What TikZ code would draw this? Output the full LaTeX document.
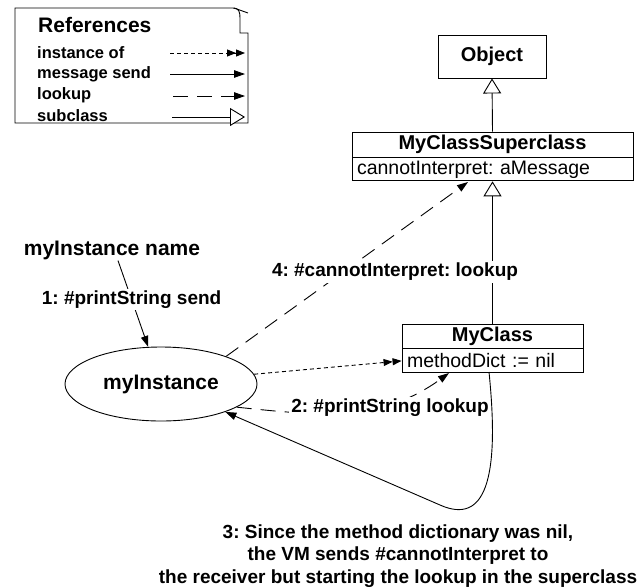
\documentclass[tikz,border=0pt]{standalone}
\usepackage{fontspec}
\setmainfont{Liberation Sans}
\usetikzlibrary{arrows.meta,shapes.geometric,calc}
\frenchspacing
\begin{document}
\begin{tikzpicture}[x=1pt,y=-1pt,
  lw/.style={line width=0.9pt},
  lbl/.style={font=\fontsize{19}{22.5}\selectfont\bfseries, inner sep=2pt},
  big/.style={font=\fontsize{21}{25}\selectfont\bfseries, inner sep=0pt},
  legtxt/.style={font=\fontsize{16.5}{19}\selectfont\bfseries, inner sep=0pt, anchor=west},
  chead/.style={draw, lw, font=\fontsize{20}{24}\selectfont\bfseries, inner sep=0pt},
  cbody/.style={draw, lw, font=\fontsize{19.5}{23}\selectfont, inner xsep=5pt, inner ysep=0pt, align=left, anchor=north},
  msg/.style={draw, lw, -{Triangle[length=11pt,width=7.5pt]}},
  inst/.style={draw, lw, dash pattern=on 4pt off 3pt, -{Triangle[length=9pt,width=7pt]Triangle[length=9pt,width=7pt]}},
  lookup/.style={draw, lw, dash pattern=on 15pt off 9pt, -{Triangle[length=11pt,width=7.5pt]}},
  sub/.style={draw, lw, -{Triangle[open, length=15pt, width=18pt, fill=white]}}
]
\useasboundingbox (0,0) rectangle (644,587);

% legend
\draw[lw] (15,8) -- (233,8) .. controls (239,8) and (240,12) .. (240,18) -- (240,33) -- (248,33) -- (248,123) -- (15,123) -- cycle;
\draw[lw] (234,8) -- (248,13);
\node[big, anchor=west] (legtitle) at (38,25) {References};
\node[legtxt] (l1) at (37,53) {instance of};
\node[legtxt] (l2) at (37,74) {message send};
\node[legtxt] (l3) at (37,95) {lookup};
\node[legtxt] (l4) at (37,116) {subclass};
\coordinate (a1) at (170,53);  \coordinate (b1) at (245,53);
\coordinate (a2) at (170,74);  \coordinate (b2) at (245,74);
\coordinate (a3) at (173,96);  \coordinate (b3) at (245,96);
\coordinate (a4) at (172,117); \coordinate (b4) at (245,117);
\draw[inst] (a1) -- (b1);
\draw[msg] (a2) -- (b2);
\draw[lookup] (a3) -- (b3);
\draw[sub] (a4) -- (b4);

% classes
\node[chead, minimum width=108pt, minimum height=43pt] (obj) at (492,56.5) {Object};
\node[chead, minimum width=281pt, minimum height=25pt] (sch) at (492.5,144.5) {MyClassSuperclass};
\node[cbody, text width=271pt, minimum height=23pt] (scb) at (sch.south) {cannotInterpret: aMessage};
\node[chead, minimum width=181pt, minimum height=24pt] (mch) at (492.5,336) {MyClass};
\node[cbody, text width=171pt, minimum height=24pt] (mcb) at (mch.south) {methodDict := nil};

% instance
\node[ellipse, draw, lw, minimum width=192pt, minimum height=74pt, font=\fontsize{21}{25}\selectfont\bfseries] (mi) at (161,384) {myInstance};
\node[big] (nm) at (112,250) {myInstance name};

% subclass links
\draw[sub] (sch.north) -- (obj.south);
\draw[sub] (mch.north) -- (scb.south);

% 1: send
\draw[msg] (nm.south) ++(6,1) coordinate (s1) (s1) -- node[lbl, fill=white, pos=0.45] (t1) {1: \#printString send} (mi.109);

% instance of
\draw[inst] (mi.6) -- (mcb.west);

% 4: lookup
\coordinate (e4) at (468,182);
\draw[lookup] (mi.23) -- (e4);
\node[lbl, fill=white] (t4) at (395,272) {4: \#cannotInterpret: lookup};

% 2: lookup
\coordinate (e2) at (449,373);
\draw[lookup] (mi.-17) to[out=-6,in=216] (e2);
\node[lbl, fill=white] (t2) at (390,408) {2: \#printString lookup};

% 3: cannotInterpret send
\coordinate (s3) at (489,372);
\coordinate (m3) at (440,505);
\draw[msg] (s3) .. controls (500,480) and (485,525) .. (m3) -- (mi);
\node[lbl, align=center] (t3) at (398,556) {3: Since the method dictionary was nil,\\the VM sends \#cannotInterpret to\\the receiver but starting the lookup in the superclass};
\end{tikzpicture}
\end{document}
